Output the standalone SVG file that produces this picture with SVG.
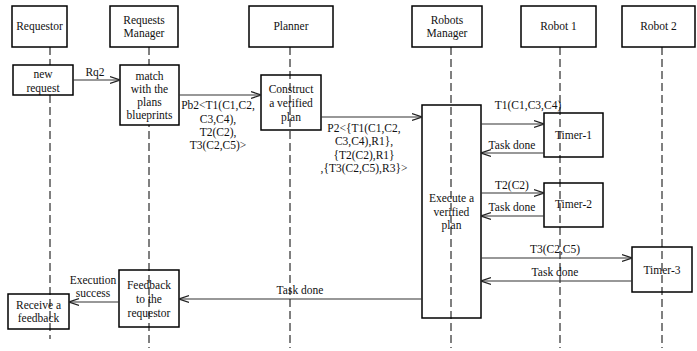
<svg xmlns="http://www.w3.org/2000/svg" width="697" height="351" viewBox="0 0 697 351" font-family="'Liberation Serif', 'Times New Roman', serif">
<defs>
<marker id="arr" viewBox="0 0 10 10" refX="10" refY="5" markerWidth="10" markerHeight="10" markerUnits="userSpaceOnUse" orient="auto">
<path d="M0,1.5 L10,5 L0,8.5" fill="none" stroke="#222" stroke-width="1.2"/>
</marker>
</defs>
<style>
text{font-family:'Liberation Serif','Times New Roman',serif;font-size:11.5px;fill:#111;text-anchor:middle}
.box{fill:#fff;stroke:#000;stroke-width:1.5}
.act{fill:none;stroke:#000;stroke-width:1.5}
.actw{fill:#fff;stroke:#000;stroke-width:1.5}
.life{stroke:#000;stroke-width:1;stroke-dasharray:8,4;fill:none}
.msg{stroke:#333;stroke-width:1.2;fill:none;marker-end:url(#arr)}
</style>
<rect width="697" height="351" fill="#fff"/>
<g id="lifelines">
<line class="life" x1="50" y1="47" x2="50" y2="339"/>
<line class="life" x1="149" y1="47" x2="149" y2="348"/>
<line class="life" x1="290" y1="47" x2="290" y2="348"/>
<line class="life" x1="451" y1="47" x2="451" y2="348"/>
<line class="life" x1="560" y1="47" x2="560" y2="348"/>
<line class="life" x1="662" y1="47" x2="662" y2="348"/>
</g>
<g id="requestor"><rect class="box" x="12" y="6" width="55" height="41"/><text x="39.5" y="30">Requestor</text></g>
<g id="requests-manager"><rect class="box" x="110" y="6" width="68" height="41"/><text x="144" y="24">Requests</text><text x="144" y="37">Manager</text></g>
<g id="planner"><rect class="box" x="249" y="6" width="84" height="41"/><text x="291" y="30">Planner</text></g>
<g id="robots-manager"><rect class="box" x="412" y="6" width="70" height="41"/><text x="447" y="24">Robots</text><text x="447" y="37">Manager</text></g>
<g id="robot1"><rect class="box" x="521" y="6" width="75" height="41"/><text x="558.5" y="30">Robot 1</text></g>
<g id="robot2"><rect class="box" x="622" y="6" width="73" height="41"/><text x="658.5" y="30">Robot 2</text></g>

<g id="new-request"><rect class="actw" x="13" y="65" width="60" height="30"/><text x="43" y="78">new</text><text x="43" y="92">request</text></g>
<g id="match"><rect class="actw" x="120" y="65" width="59" height="60"/><text x="149.5" y="80">match</text><text x="149.5" y="93">with the</text><text x="149.5" y="106">plans</text><text x="149.5" y="119">blueprints</text></g>
<g id="construct"><rect class="act" x="261" y="75" width="60" height="55"/><text x="291" y="93">Construct</text><text x="291" y="107">a verified</text><text x="291" y="121">plan</text></g>
<g id="execute"><rect class="act" x="422" y="105" width="59" height="213"/><text x="451.5" y="202">Execute a</text><text x="451.5" y="216">verified</text><text x="451.5" y="229">plan</text></g>
<g id="timer1"><rect class="act" x="544" y="113" width="59" height="44"/><text x="573.5" y="139">Timer-1</text></g>
<g id="timer2"><rect class="act" x="544" y="183" width="59" height="44"/><text x="573.5" y="208">Timer-2</text></g>
<g id="timer3"><rect class="act" x="632" y="247" width="60" height="45"/><text x="662" y="274">Timer-3</text></g>
<g id="receive-feedback"><rect class="act" x="8" y="294" width="61" height="35"/><text x="38.5" y="309">Receive a</text><text x="38.5" y="322">feedback</text></g>
<g id="feedback-requestor"><rect class="act" x="119" y="270" width="60" height="57"/><text x="149" y="289">Feedback</text><text x="149" y="303">to the</text><text x="149" y="317">requestor</text></g>

<g id="connectors">
<line class="msg" x1="73" y1="80" x2="120" y2="80"/>
<line class="msg" x1="179" y1="95" x2="261" y2="95"/>
<line class="msg" x1="321" y1="117" x2="422" y2="117"/>
<line class="msg" x1="481" y1="124" x2="544" y2="124"/>
<line class="msg" x1="544" y1="153" x2="481" y2="153"/>
<line class="msg" x1="481" y1="193" x2="544" y2="193"/>
<line class="msg" x1="544" y1="216" x2="481" y2="216"/>
<line class="msg" x1="481" y1="258" x2="632" y2="258"/>
<line class="msg" x1="632" y1="281" x2="481" y2="281"/>
<line class="msg" x1="422" y1="299" x2="179" y2="299"/>
<line class="msg" x1="119" y1="302" x2="69" y2="302"/>
</g>
<g id="labels">
<text x="95" y="76">Rq2</text>
<text x="218" y="109">Pb2&lt;T1(C1,C2,</text>
<text x="218" y="123">C3,C4),</text>
<text x="218" y="136">T2(C2),</text>
<text x="218" y="149">T3(C2,C5)&gt;</text>
<text x="364" y="132">P2&lt;{T1(C1,C2,</text>
<text x="364" y="145">C3,C4),R1},</text>
<text x="364" y="159">{T2(C2),R1}</text>
<text x="364" y="172">,{T3(C2,C5),R3}&gt;</text>
<text x="528" y="109">T1(C1,C3,C4)</text>
<text x="512" y="149">Task done</text>
<text x="512" y="189">T2(C2)</text>
<text x="512" y="211">Task done</text>
<text x="555" y="253">T3(C2,C5)</text>
<text x="555" y="276">Task done</text>
<text x="300" y="294">Task done</text>
<text x="93" y="284">Execution</text>
<text x="93" y="297">success</text>
</g>
</svg>
